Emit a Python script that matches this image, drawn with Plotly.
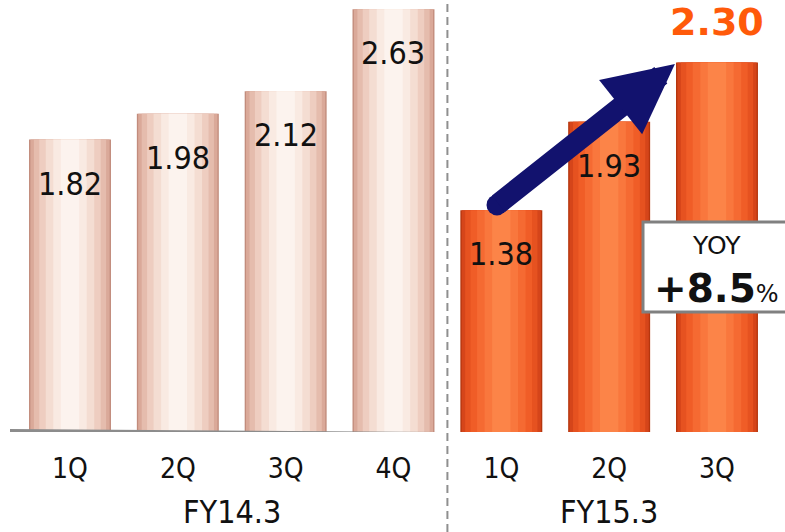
import plotly.graph_objects as go

# ---- data ----
quarters = ["1Q", "2Q", "3Q", "4Q", "1Q", "2Q", "3Q"]
fiscal_years = ["FY14.3", "FY14.3", "FY14.3", "FY14.3", "FY15.3", "FY15.3", "FY15.3"]
values = [1.82, 1.98, 2.12, 2.63, 1.38, 1.93, 2.30]
yoy_text = "+8.5"

x_idx = list(range(len(values)))
is_new = [fy == "FY15.3" for fy in fiscal_years]

# cylinder shading layers: (relative width, colour for old FY, colour for new FY)
layers = [
    (0.76, "#c28c7c", "#b5360e"),
    (0.735, "#daa999", "#d5451a"),
    (0.67, "#e5bcad", "#e65220"),
    (0.57, "#eecdc0", "#f05d27"),
    (0.45, "#f4ddd2", "#f56a32"),
    (0.31, "#f9eae2", "#f9773d"),
    (0.17, "#fcf3ee", "#fc8448"),
]

fig = go.Figure()
for w, c_old, c_new in layers:
    fig.add_trace(go.Bar(
        x=x_idx, y=values, width=w,
        marker=dict(color=[c_new if n else c_old for n in is_new], line=dict(width=0)),
        hoverinfo="skip", showlegend=False,
    ))

L, R, T, B = 10, 0, 0, 100
W, H = 785, 532
plot_w = W - L - R
px_per_cat = 107.83
r0 = -60 / px_per_cat
r1 = r0 + plot_w / px_per_cat
y_top = 432 / 160.7

COND = "DejaVu Sans Condensed, DejaVu Sans"
annotations = []
# value labels
last = len(values) - 1
for i, v in enumerate(values):
    if i == last:
        annotations.append(dict(x=i, y=v, xref="x", yref="y", text=f"<b>{v:.2f}</b>",
                                 showarrow=False, yshift=40, yanchor="middle", borderpad=0,
                                 font=dict(family="DejaVu Sans", size=38, color="#ff5a0a")))
    else:
        annotations.append(dict(x=i, y=v, xref="x", yref="y", text=f"{v:.2f}",
                                 showarrow=False, yshift=-44, yanchor="middle",
                                 font=dict(family=COND, size=32, color="#111111")))

# fiscal-year group labels
for fy in dict.fromkeys(fiscal_years):
    idx = [i for i, f in enumerate(fiscal_years) if f == fy]
    annotations.append(dict(x=sum(idx) / len(idx), y=0, xref="x", yref="paper", text=fy,
                            showarrow=False, yshift=-80, yanchor="middle",
                            font=dict(family=COND, size=32, color="#111111")))

# growth arrow
arrow_color = "#12126e"
start = (3.96, 1.413)
tip = (5.61, 2.29)
annotations.append(dict(x=tip[0], y=tip[1], xref="x", yref="y", ax=start[0], ay=start[1],
                        axref="x", ayref="y", text="", showarrow=True, arrowhead=2,
                        arrowsize=0.66, arrowwidth=21, arrowcolor=arrow_color, standoff=0))

# YOY box texts
annotations.append(dict(x=(716 - L) / plot_w, y=(432 - 245) / 432, xref="paper", yref="paper",
                        text="YOY", showarrow=False, xanchor="center", yanchor="middle",
                        font=dict(family="DejaVu Sans", size=25, color="#111111")))
annotations.append(dict(x=(716 - L) / plot_w, y=(432 - 289) / 432, xref="paper", yref="paper",
                        text=f"<b>{yoy_text}</b><span style='font-size:24px'>%</span>",
                        showarrow=False, xanchor="center", yanchor="middle",
                        font=dict(family="DejaVu Sans", size=39, color="#111111")))

shapes = [
    # baseline
    dict(type="line", xref="paper", yref="y", x0=0, x1=1, y0=0.01, y1=-0.025,
         line=dict(color="#8c8c8c", width=3)),
    # separator
    dict(type="line", xref="x", yref="paper", x0=3.5, x1=3.5, y0=-100 / 432, y1=1,
         line=dict(color="#8f8f8f", width=2, dash="8px,5px")),
    # round cap of arrow
    dict(type="circle", xref="x", yref="y", xsizemode="pixel", ysizemode="pixel",
         xanchor=start[0], yanchor=start[1], x0=-10.5, x1=10.5, y0=-10.5, y1=10.5,
         fillcolor=arrow_color, line=dict(width=0)),
    # YOY box
    dict(type="rect", xref="paper", yref="paper", x0=(643 - L) / plot_w, x1=(800 - L) / plot_w,
         y0=(432 - 312) / 432, y1=(432 - 222) / 432, fillcolor="white",
         line=dict(color="#808080", width=3)),
]

fig.update_layout(
    width=W, height=H,
    margin=dict(l=L, r=R, t=T, b=B),
    paper_bgcolor="white", plot_bgcolor="white",
    barmode="overlay",
    showlegend=False,
    hovermode=False,
    xaxis=dict(range=[r0, r1], tickmode="array", tickvals=x_idx, ticktext=quarters,
               showgrid=False, zeroline=False, showline=False, ticks="",
               ticklabelstandoff=17,
               tickfont=dict(family=COND, size=28, color="#111111")),
    yaxis=dict(range=[0, y_top], visible=False, showgrid=False, zeroline=False),
    annotations=annotations,
    shapes=shapes,
)

fig.write_html("out.html", config={"displayModeBar": False},
               post_script="document.body.style.margin='0';document.body.style.overflow='hidden';")
